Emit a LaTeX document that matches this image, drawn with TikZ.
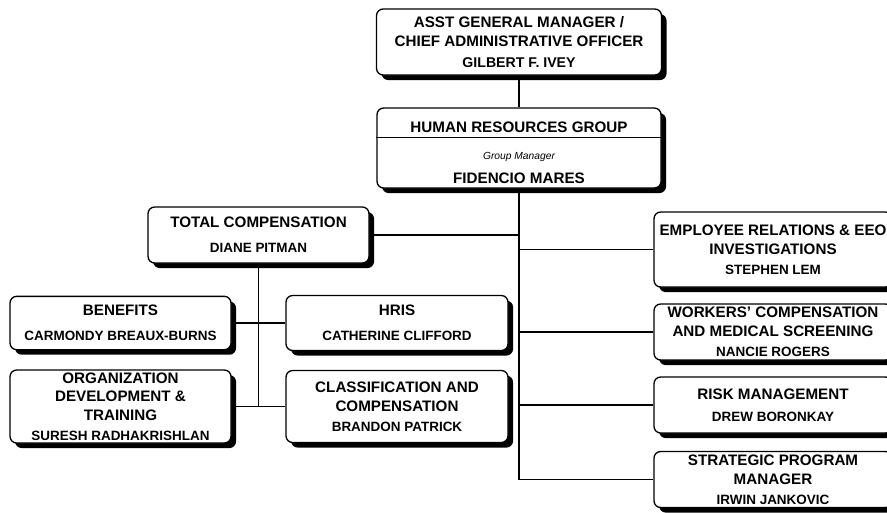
\documentclass[tikz,border=0pt]{standalone}
\usepackage{fontspec}
\setmainfont{Liberation Sans}
\usetikzlibrary{shadows}
\newcommand{\holder}[1]{{\fontsize{10.1}{14}\selectfont #1}}
\tikzset{
  unit/.style 2 args={draw,line width=1pt,rounded corners=5pt,fill=white,
    drop shadow={fill=black,opacity=1,shadow xshift=3.8pt,shadow yshift=-3.8pt},
    inner sep=0pt,align=center,minimum width=#1,minimum height=#2,
    font=\fontsize{11.4}{14}\selectfont\bfseries},
  link/.style={line width=0.8pt},
}

\begin{document}
\begin{tikzpicture}[x=0.75pt,y=-0.75pt]
\useasboundingbox (0,0) rectangle (887,512);
% head of the group
\node[unit={213.75pt}{49.5pt}] (agm) at (519,42)
  {ASST GENERAL MANAGER /\\CHIEF ADMINISTRATIVE OFFICER\\[1.5pt]{\fontsize{10.6}{14}\selectfont GILBERT F. IVEY}};
\node[unit={213pt}{60pt}] (hr) at (519,148)
  {\rule{0pt}{15pt}HUMAN RESOURCES GROUP\\[6.5pt]
   {\mdseries\itshape\fontsize{7.7}{9}\selectfont Group Manager}\\[4pt]FIDENCIO MARES};
\draw[line width=0.6pt] ([yshift=-22.5pt]hr.north west) -- ([yshift=-22.5pt]hr.north east);
% total compensation and its units
\node[unit={165.75pt}{42pt}] (tc) at (258.5,235) {TOTAL COMPENSATION\\[5pt]\holder{DIANE PITMAN}};
\node[unit={165.75pt}{40pt}] (ben) at (120.5,323) {BENEFITS\\[5pt]\holder{CARMONDY BREAUX-BURNS}};
\node[unit={166.5pt}{41.25pt}] (hris) at (397,323) {HRIS\\[5pt]\holder{CATHERINE CLIFFORD}};
\node[unit={165.75pt}{54.75pt}] (org) at (120.5,406.5)
  {ORGANIZATION\\DEVELOPMENT \&\\TRAINING\\[1pt]\holder{SURESH RADHAKRISHLAN}};
\node[unit={166.5pt}{54pt}] (cls) at (397,406.5)
  {CLASSIFICATION AND\\COMPENSATION\\[1pt]\holder{BRANDON PATRICK}};
% units reporting straight to the group manager
\node[unit={178.5pt}{56.25pt}] (emp) at (773,249.5)
  {EMPLOYEE RELATIONS \& EEO\\INVESTIGATIONS\\[1pt]\holder{STEPHEN LEM}};
\node[unit={178.5pt}{42pt}] (wc) at (773,332)
  {WORKERS' COMPENSATION\\AND MEDICAL SCREENING\\[1pt]\holder{NANCIE ROGERS}};
\node[unit={178.5pt}{42pt}] (risk) at (773,405) {RISK MANAGEMENT\\[2.5pt]\holder{DREW BORONKAY}};
\node[unit={178.5pt}{42pt}] (spm) at (773,479.5)
  {STRATEGIC PROGRAM\\MANAGER\\[1pt]\holder{IRWIN JANKOVIC}};
% reporting lines
\draw[link] (agm) -- (hr);
\draw[link] (hr.south) |- (spm.west);
\draw[link] (hr.south) |- (emp.west);
\draw[link] (hr.south) |- (wc.west);
\draw[link] (hr.south) |- (risk.west);
\draw[link] (tc.east) -- (tc.east -| hr.south);
\draw[link] (tc.south) -- (tc.south |- org.east);
\draw[link] (ben.east) -- (hris.west);
\draw[link] (org.east) -- (cls.west);
\end{tikzpicture}
\end{document}
